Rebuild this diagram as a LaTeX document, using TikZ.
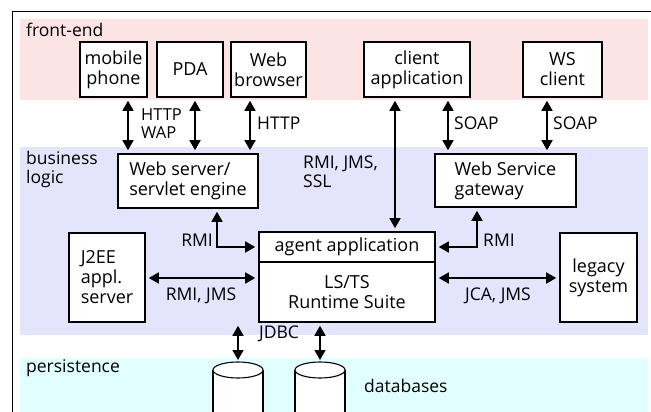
\documentclass[tikz,border=0pt]{standalone}
\usepackage{fontspec}
\setmainfont{Open Sans}
\usetikzlibrary{arrows.meta}
\definecolor{fepink}{RGB}{253,228,228}
\definecolor{blblue}{RGB}{228,228,252}
\definecolor{pecyan}{RGB}{226,255,255}
\tikzset{
  box/.style={draw=black, line width=1.6pt, fill=white, inner sep=0pt, align=center, font=\fontsize{18}{20}\selectfont},
  lbl/.style={inner sep=0pt, font=\fontsize{17.5}{19}\selectfont},
  arr/.style={line width=1.6pt, {Triangle[length=10pt,width=11pt]}-{Triangle[length=10pt,width=11pt]}},
}
\begin{document}
\begin{tikzpicture}[x=1pt,y=-1pt]
\clip (0,0) rectangle (651,412);
\fill[white] (0,0) rectangle (651,412);
% bands
\fill[fepink] (20,19) rectangle (648,100);
\fill[blblue] (20,147) rectangle (648,335);
\fill[pecyan] (20,358) rectangle (648,420);
% frame
\draw[line width=0.8pt] (651,11) -- (12,11) -- (12,420);
% band labels
\node[lbl, anchor=west] (fe) at (26,30) {front-end};
\node[lbl, anchor=north west, align=left] (bl) at (26,151) {business\\logic};
\node[lbl, anchor=west] (pe) at (26,368) {persistence};
% front-end boxes
\node[box, minimum width=67, minimum height=55] (mob) at (113.5,69.5) {mobile\\phone};
\node[box, minimum width=66, minimum height=55] (pda) at (190,69.5) {PDA};
\node[box, minimum width=75, minimum height=55] (web) at (268.5,69.5) {Web\\browser};
\node[box, minimum width=106, minimum height=55] (cli) at (417,69.5) {client\\application};
\node[box, minimum width=79, minimum height=55] (wsc) at (562.5,69.5) {WS\\client};
% business boxes
\node[box, minimum width=140, minimum height=54, align=left] (wsv) at (188,181) {Web server/\\servlet engine};
\node[box, minimum width=141, minimum height=53, align=left] (wsg) at (505.5,180.5) {Web Service\\gateway};
\node[box, minimum width=176, minimum height=30] (agt) at (347,247) {agent application};
\node[box, minimum width=176, minimum height=60] (lsts) at (347,292) {LS/TS\\Runtime Suite};
\node[box, minimum width=76, minimum height=89, align=left] (j2ee) at (107,277.5) {J2EE\\appl.\\server};
\node[box, minimum width=77, minimum height=89] (leg) at (598.5,277.5) {legacy\\system};
% databases
\coordinate (db1) at (238,370);
\coordinate (db2) at (320,370);
\foreach \c in {db1,db2}{
  \draw[line width=1.1pt, fill=white] ([xshift=-25pt]\c) -- ++(0,60) -- ++(50,0) -- ++(0,-60);
  \draw[line width=1.1pt, fill=white] (\c) ellipse [x radius=25, y radius=8];
}
\coordinate (db1t) at (238,360);
\coordinate (db2t) at (320,360);
% arrows front-end to business
\draw[arr] ([yshift=-3pt]mob.south -| 128,0) -- ([yshift=3pt]wsv.north -| 128,0);
\draw[arr] ([yshift=-3pt]pda.south -| 195,0) -- ([yshift=3pt]wsv.north -| 195,0);
\draw[arr] ([yshift=-3pt]web.south -| 250,0) -- ([yshift=3pt]wsv.north -| 250,0);
\draw[arr] ([yshift=-3pt]cli.south -| 395,0) -- ([yshift=3pt]agt.north -| 395,0);
\draw[arr] ([yshift=-3pt]cli.south -| 448,0) -- ([yshift=3pt]wsg.north -| 448,0);
\draw[arr] ([yshift=-3pt]wsc.south -| 547,0) -- ([yshift=3pt]wsg.north -| 547,0);
% RMI elbows
\draw[arr] ([yshift=-3pt]wsv.south -| 217,0) |- ([xshift=-3pt]agt.west);
\draw[arr] ([yshift=-3pt]wsg.south -| 477,0) |- ([xshift=3pt]agt.east);
% horizontal
\draw[arr] ([xshift=3pt]j2ee.east |- 0,278) -- ([xshift=-3pt]lsts.west |- 0,278);
\draw[arr] ([xshift=3pt]lsts.east |- 0,278) -- ([xshift=-3pt]leg.west |- 0,278);
% JDBC
\draw[arr] ([yshift=-3pt]lsts.south -| db1t) -- (db1t);
\draw[arr] ([yshift=-3pt]lsts.south -| db2t) -- (db2t);
% labels
\node[lbl, anchor=base west, font=\fontsize{16.5}{18}\selectfont] (l1a) at (141,121) {HTTP};
\node[lbl, anchor=base west, font=\fontsize{16.5}{18}\selectfont] (l1b) at (141,138.5) {WAP};
\node[lbl, anchor=west] (l2) at (257,123) {HTTP};
\node[lbl, anchor=west] (l3) at (454,123) {SOAP};
\node[lbl, anchor=west] (l4) at (553,123) {SOAP};
\node[lbl, anchor=north west, align=left] (l5) at (303,156) {RMI, JMS,\\SSL};
\node[lbl, anchor=east] (l6) at (213,240) {RMI};
\node[lbl, anchor=west] (l7) at (483,240) {RMI};
\node[lbl] (l8) at (201,296) {RMI, JMS};
\node[lbl] (l9) at (498,296) {JCA, JMS};
\node[lbl] (l10) at (279,334) {JDBC};
\node[lbl, anchor=west] (l11) at (364,386) {databases};
\end{tikzpicture}
\end{document}
